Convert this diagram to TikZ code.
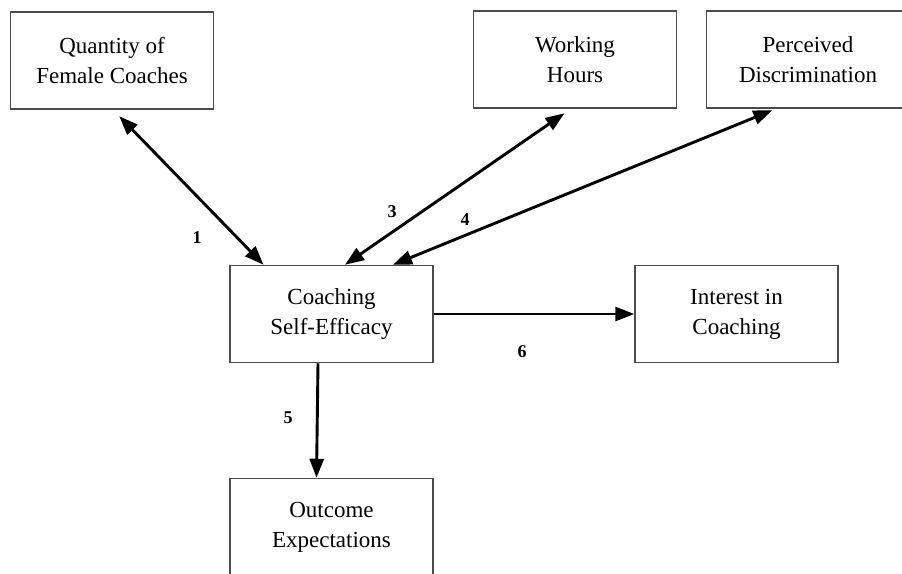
\documentclass[tikz,border=0pt]{standalone}
\usepackage{fontspec}
\setmainfont{Liberation Serif}
\usetikzlibrary{arrows.meta}
\begin{document}
\begin{tikzpicture}[x=1pt,y=-1pt,
  box/.style={draw=black!70, line width=1.5pt, minimum width=203pt, minimum height=97pt,
    align=center, inner sep=0pt, font=\fontsize{23}{30}\selectfont},
  tip/.tip={Triangle[length=19pt,width=14pt]},
  link/.style={line width=2.9pt, black, -tip},
  both/.style={link, tip-tip},
  num/.style={font=\fontsize{18}{20}\selectfont\bfseries, inner sep=0pt}]
\useasboundingbox (0,0) rectangle (902,573);
\begin{scope}
\clip (0,0) rectangle (902,573);
\node[box] (q) at (112,60.5) {Quantity of\\Female Coaches};
\node[box] (w) at (575,59.5) {Working\\Hours};
\node[box] (p) at (808,59.5) {Perceived\\Discrimination};
\node[box] (c) at (331.5,314) {Coaching\\Self-Efficacy};
\node[box] (i) at (736.5,314) {Interest in\\Coaching};
\node[box] (o) at (331.5,527) {Outcome\\Expectations};
\end{scope}
% paths
\draw[both, shorten <=9pt] ([xshift=1pt]q.south) -- ([xshift=-68pt]c.north);
\draw[both, shorten >=8pt] ([xshift=13.5pt]c.north) -- ([xshift=-4pt]w.south);
\draw[both, shorten >=4pt] ([xshift=61.5pt]c.north) -- ([xshift=-32pt]p.south);
\draw[link] (c.east) -- (i.west);
\draw[link] ([xshift=-13.5pt]c.south) -- ([xshift=-15pt]o.north);
% path labels
\node[num] (n1) at (197,238) {1};
\node[num] (n3) at (392,212) {3};
\node[num] (n4) at (465,220) {4};
\node[num] (n5) at (288,418) {5};
\node[num] (n6) at (522,352) {6};
\end{tikzpicture}
\end{document}
